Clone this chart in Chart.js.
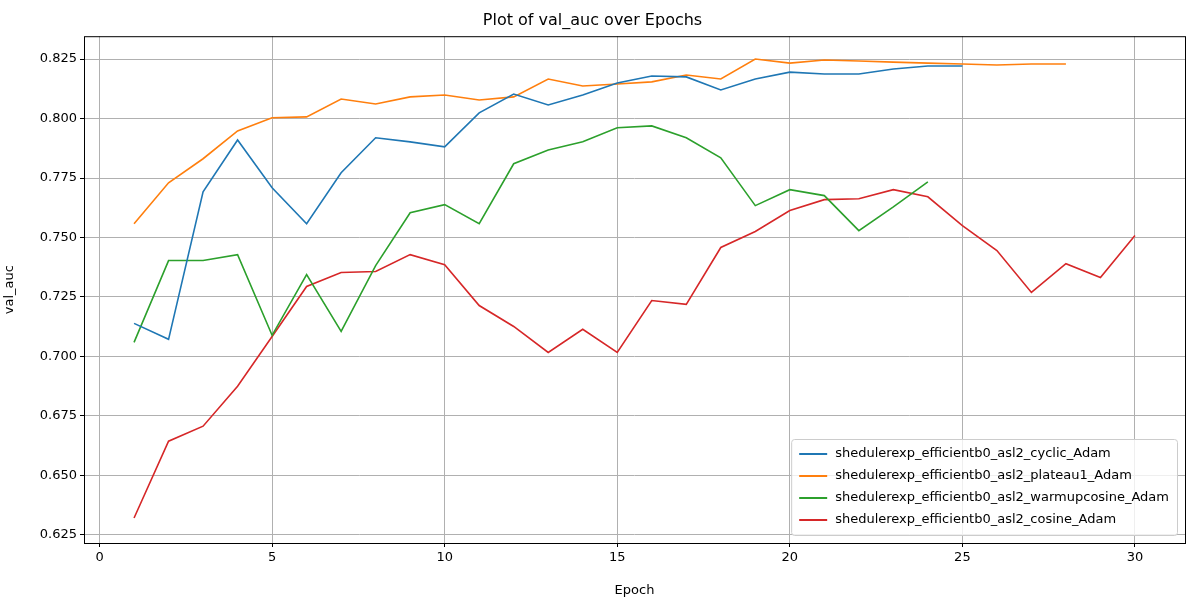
<!DOCTYPE html>
<html>
<head>
<meta charset="utf-8">
<script src="https://cdn.jsdelivr.net/npm/chart.js@4"></script>
<style>
  html, body { margin: 0; padding: 0; background: #fff; }
  #wrap { width: 1200px; height: 600px; }
</style>
</head>
<body>
<div id="wrap"><canvas id="chart" width="1200" height="600"></canvas></div>
<script>
const seriesNames = [
  'shedulerexp_efficientb0_asl2_cyclic_Adam',
  'shedulerexp_efficientb0_asl2_plateau1_Adam',
  'shedulerexp_efficientb0_asl2_warmupcosine_Adam',
  'shedulerexp_efficientb0_asl2_cosine_Adam',
];
const seriesColors = ['#1f77b4', '#ff7f0e', '#2ca02c', '#d62728'];

const cyclicAuc = [0.7139, 0.7072, 0.7692, 0.7910, 0.7709, 0.7558, 0.7772, 0.7919, 0.7902, 0.7881,
  0.8024, 0.8103, 0.8057, 0.8099, 0.8149, 0.8179, 0.8175, 0.8120, 0.8166, 0.8195,
  0.8187, 0.8187, 0.8208, 0.8221, 0.8221];
const plateauAuc = [0.7558, 0.7730, 0.7831, 0.7948, 0.8003, 0.8007, 0.8082, 0.8061, 0.8091, 0.8099,
  0.8078, 0.8091, 0.8166, 0.8137, 0.8145, 0.8154, 0.8183, 0.8166, 0.8250, 0.8233,
  0.8246, 0.8242, 0.8237, 0.8233, 0.8229, 0.8225, 0.8229, 0.8229];
const warmupAuc = [0.7059, 0.7403, 0.7403, 0.7428, 0.7089, 0.7344, 0.7105, 0.7382, 0.7604, 0.7638,
  0.7558, 0.7810, 0.7868, 0.7902, 0.7961, 0.7969, 0.7919, 0.7835, 0.7634, 0.7701,
  0.7676, 0.7529, 0.7629, 0.7734];
const cosineAuc = [0.6321, 0.6644, 0.6707, 0.6875, 0.7084, 0.7294, 0.7353, 0.7357, 0.7428, 0.7386,
  0.7214, 0.7126, 0.7017, 0.7114, 0.7017, 0.7235, 0.7219, 0.7458, 0.7525, 0.7613,
  0.7659, 0.7663, 0.7701, 0.7671, 0.7550, 0.7445, 0.7269, 0.7390, 0.7332, 0.7508];

const xTicks = [0, 5, 10, 15, 20, 25, 30];
const yTicks = [0.625, 0.650, 0.675, 0.700, 0.725, 0.750, 0.775, 0.800, 0.825];

const allSeries = [cyclicAuc, plateauAuc, warmupAuc, cosineAuc];
const FONT = 'DejaVu Sans';

function toPoints(arr) {
  return arr.map((v, i) => ({ x: i + 1, y: v }));
}

// matplotlib-style legend box, lower right inside the plot
const boxLegend = {
  id: 'boxLegend',
  afterDraw(chart) {
    const { ctx, chartArea } = chart;
    const rowH = 22, padX = 8, lineW = 28, gap = 8;
    ctx.save();
    ctx.font = `13px "${FONT}"`;
    const textW = Math.max(...seriesNames.map((n) => ctx.measureText(n).width));
    const w = padX + lineW + gap + textW + padX;
    const h = rowH * seriesNames.length + 8;
    const x0 = chartArea.right - 8 - w;
    const y0 = chartArea.bottom - 8 - h;
    ctx.fillStyle = 'rgba(255,255,255,0.8)';
    ctx.strokeStyle = '#cccccc';
    ctx.lineWidth = 1;
    ctx.beginPath();
    ctx.roundRect(x0 + 0.5, y0 + 0.5, w, h, 3);
    ctx.fill();
    ctx.stroke();
    seriesNames.forEach((name, i) => {
      const cy = y0 + 4 + rowH * i + rowH / 2;
      ctx.strokeStyle = seriesColors[i];
      ctx.lineWidth = 2;
      ctx.beginPath();
      ctx.moveTo(x0 + padX, cy);
      ctx.lineTo(x0 + padX + lineW, cy);
      ctx.stroke();
      ctx.fillStyle = '#000';
      ctx.textBaseline = 'middle';
      ctx.fillText(name, x0 + padX + lineW + gap, cy);
    });
    ctx.restore();
  },
};

const frame = {
  id: 'frame',
  afterDraw(chart) {
    const { ctx, chartArea: a } = chart;
    ctx.save();
    ctx.strokeStyle = '#000';
    ctx.lineWidth = 1;
    ctx.strokeRect(a.left + 0.5, a.top + 0.5, a.right - a.left, a.bottom - a.top);
    ctx.restore();
  },
};

new Chart(document.getElementById('chart'), {
  type: 'line',
  data: {
    datasets: allSeries.map((s, i) => ({
      label: seriesNames[i],
      data: toPoints(s),
      borderColor: seriesColors[i],
      backgroundColor: seriesColors[i],
      borderWidth: 1.6,
      pointRadius: 0,
      tension: 0,
    })),
  },
  options: {
    responsive: false,
    animation: false,
    layout: { padding: { left: 0, right: 15, top: 0, bottom: 0 } },
    plugins: {
      legend: { display: false },
      tooltip: { enabled: false },
      title: {
        display: true,
        text: 'Plot of val_auc over Epochs',
        color: '#000',
        font: { family: FONT, size: 16, weight: 'normal' },
        padding: { top: 11, bottom: 6 },
      },
    },
    scales: {
      x: {
        type: 'linear',
        min: -0.45,
        max: 31.45,
        afterBuildTicks: (s) => { s.ticks = xTicks.map((v) => ({ value: v })); },
        afterFit: (s) => { s.height = 57; },
        grid: { color: '#b0b0b0', tickColor: '#000', tickLength: 4 },
        border: { display: false },
        ticks: { color: '#000', font: { family: FONT, size: 13 }, padding: 3 },
        title: { display: true, text: 'Epoch', color: '#000', font: { family: FONT, size: 13 }, padding: 2 },
      },
      y: {
        type: 'linear',
        min: 0.6216,
        max: 0.8346,
        afterBuildTicks: (s) => { s.ticks = yTicks.map((v) => ({ value: v })); },
        afterFit: (s) => { s.width = 84; },
        grid: { color: '#b0b0b0', tickColor: '#000', tickLength: 4 },
        border: { display: false },
        ticks: {
          color: '#000', font: { family: FONT, size: 13 }, padding: 3,
          callback: (v) => v.toFixed(3),
        },
        title: { display: true, text: 'val_auc', color: '#000', font: { family: FONT, size: 13 }, padding: 2 },
      },
    },
  },
  plugins: [boxLegend, frame],
});
</script>
</body>
</html>
